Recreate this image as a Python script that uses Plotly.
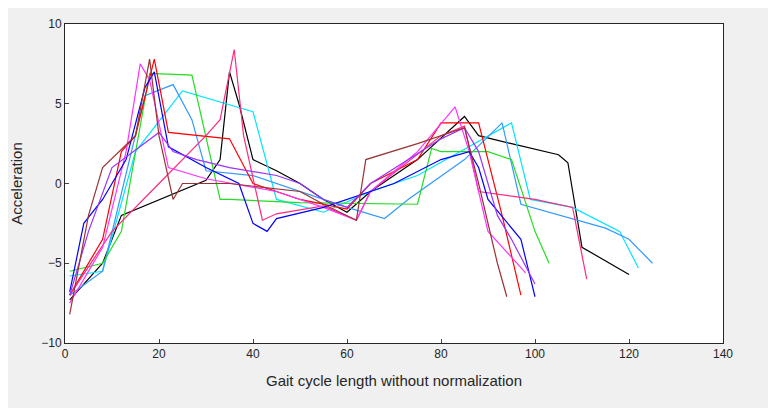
import plotly.graph_objects as go

black_x=[1,8,12,20,30,33,35,37,40,45,50,55,60,65,75,85,88,95,105,107,110,120]
black_y=[-7.3,-5,-2,-1,0.2,1.5,7,5,1.5,0.8,0,-1,-1.8,-0.5,1.5,4.2,3,2.5,1.8,1.3,-4,-5.7]
cyan_x=[1,8,15,25,40,45,55,65,75,90,95,99,108,118,122]
cyan_y=[-5.8,-5.5,2,5.8,4.5,-1,-1.8,-0.5,0.5,3,3.8,-1,-1.5,-3,-5.3]
dblue_x=[1,8,17,23,27,30,40,50,60,68,73,85,93,97,115,120,125]
dblue_y=[-7,-5.5,5.5,6.2,4,0.8,0.5,-0.5,-1.5,-2.2,-1,1.5,3.8,-1.3,-2.8,-3.5,-5]
green_x=[1,8,12,18,27,33,35,50,75,78,80,90,95,100,103]
green_y=[-5.5,-5,-3,6.9,6.8,-1,-1,-1.2,-1.3,2.2,2,2,1.5,-3,-5]
red_x=[1,8,12,15,19,22,35,40,50,60,65,75,80,88,93,97]
red_y=[-7,-3.5,2,3,7.8,3.2,2.8,0,-1,-1.6,0,1.5,3.8,3.8,-2,-7]
pink_x=[1,10,20,30,33,36,38,42,45,55,62,65,80,85,88,100,108,111]
pink_y=[-7,-3,0,3,4,8.4,3,-2.3,-1.9,-1.4,-2.3,-0.5,3,3.6,-0.5,-1,-1.5,-6]
mag_x=[1,8,13,16,18,22,30,45,55,62,65,75,83,86,90,98]
mag_y=[-7.5,-4,2,7.5,6.5,1,0.3,-0.5,-1.5,-2.3,-0.5,2,4.8,2,-3,-5.6]
blue_x=[1,4,8,13,17,19,22,30,37,40,43,45,55,60,70,80,86,88,90,97,100]
blue_y=[-6.8,-2.5,-1,1.5,6,7,2.3,1,0,-2.5,-3,-2.2,-1.5,-1,0,1.5,2,1,-1,-3.5,-7.1]
purple_x=[1,5,10,20,23,28,35,45,50,55,60,65,80,85,88,92,95,100]
purple_y=[-7,-3,1,3.2,2,1.5,1,0.5,0,-1,-1.5,0,2.8,3.5,2,-2,-3.5,-6.3]
brown_x=[1,5,8,15,18,20,23,25,35,50,55,62,64,75,85,88,92,94]
brown_y=[-8.2,-2,1,3,7.8,3,-1,0,0,-0.5,-1.3,-2.3,1.5,2.5,3.5,0,-5,-7.1]

series=[(black_x,black_y,"black"),(cyan_x,cyan_y,"#00e5ff"),(dblue_x,dblue_y,"#3399ff"),
        (green_x,green_y,"#22dd22"),(red_x,red_y,"red"),(pink_x,pink_y,"#ff2a7f"),
        (mag_x,mag_y,"#ff33ff"),(blue_x,blue_y,"blue"),(purple_x,purple_y,"#9933ff"),
        (brown_x,brown_y,"#993333")]

fig=go.Figure()
for x,y,c in series:
    fig.add_trace(go.Scatter(x=x,y=y,mode="lines",line=dict(color=c,width=1.2),showlegend=False))

ax=dict(showgrid=False,zeroline=False,ticks="inside",ticklen=4,showline=True,linecolor="#262626",mirror=True,
        tickfont=dict(size=12,color="#262626"),automargin=False)
fig.update_layout(width=776,height=408,paper_bgcolor="#f0f0f0",plot_bgcolor="white",
    margin=dict(l=57,r=61,t=16,b=73),font=dict(family="Liberation Sans, Arial",color="#262626"),
    xaxis=dict(range=[0,140],dtick=20,title=dict(text="Gait cycle length without normalization",font=dict(size=15)),**ax),
    yaxis=dict(range=[-10,10],dtick=5,title=dict(text="Acceleration",font=dict(size=15)),**ax))
fig.write_html("out.html")
